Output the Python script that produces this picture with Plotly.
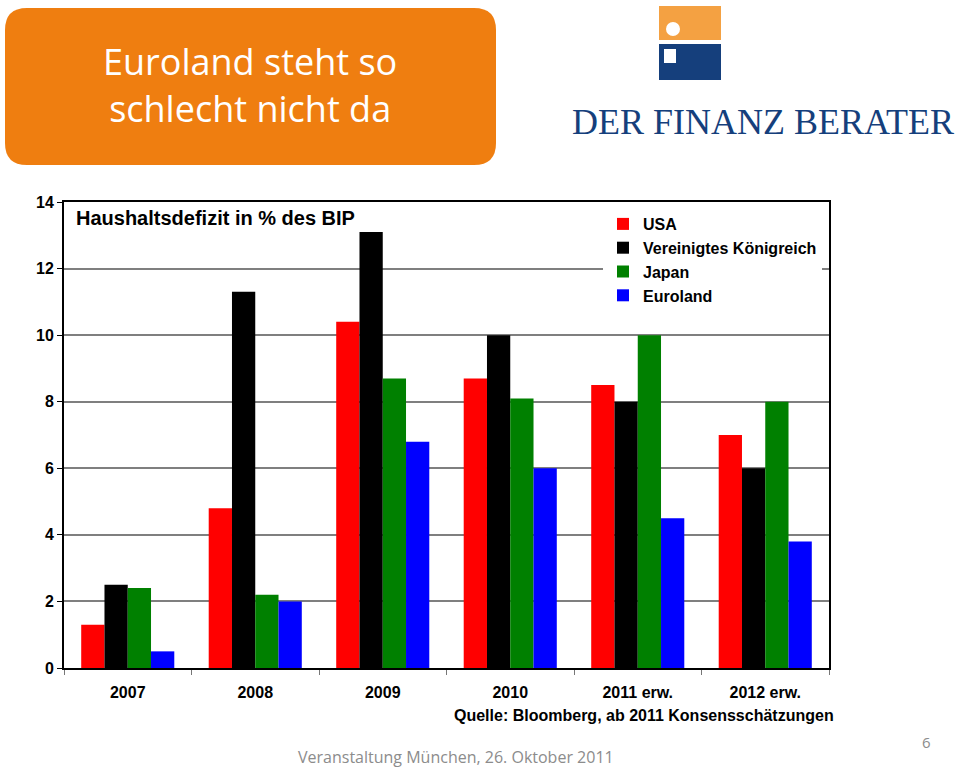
import plotly.graph_objects as go

categories = ["2007", "2008", "2009", "2010", "2011 erw.", "2012 erw."]
usa = [1.3, 4.8, 10.4, 8.7, 8.5, 7.0]
uk = [2.5, 11.3, 13.1, 10.0, 8.0, 6.0]
japan = [2.4, 2.2, 8.7, 8.1, 10.0, 8.0]
euroland = [0.5, 2.0, 6.8, 6.0, 4.5, 3.8]
series_names = ["USA", "Vereinigtes Königreich", "Japan", "Euroland"]
series_colors = ["#FF0000", "#000000", "#008000", "#0000FF"]
y_ticks = [0, 2, 4, 6, 8, 10, 12, 14]

W, H = 960, 769
L, R, T, B = 64, 829, 202, 668


def px(x):
    return (x - L) / (R - L)


def py(y):
    return (B - y) / (B - T)


fig = go.Figure()
for name, vals, col in zip(series_names, [usa, uk, japan, euroland], series_colors):
    fig.add_trace(go.Bar(x=categories, y=vals, name=name, marker=dict(color=col, line=dict(width=0))))

bold = "Liberation Sans"

fig.update_layout(
    width=W, height=H,
    margin=dict(l=L, r=W - R, t=T, b=H - B),
    paper_bgcolor="white", plot_bgcolor="white",
    barmode="group", bargap=0.27, bargroupgap=0,
    showlegend=True,
    legend=dict(x=px(603), y=py(207), xanchor="left", yanchor="top",
                bgcolor="white", borderwidth=0, tracegroupgap=0,
                font=dict(family=bold, size=16, color="black", weight="bold"),
                itemwidth=30),
    font=dict(family=bold),
)
fig.update_xaxes(
    type="category", showline=True, linecolor="black", linewidth=2, mirror=True,
    ticks="outside", tickson="boundaries", ticklen=5, tickcolor="#777",
    tickfont=dict(family=bold, size=16, color="black", weight="bold"),
    showgrid=False, ticklabelstandoff=9,
)
fig.update_yaxes(
    range=[0, 14], tickvals=y_ticks, showline=True, linecolor="black", linewidth=2, mirror=True,
    ticks="outside", ticklen=5, tickcolor="black",
    tickfont=dict(family=bold, size=16, color="black", weight="bold"),
    showgrid=True, gridcolor="#7f7f7f", gridwidth=1.5, zeroline=False,
)

shapes = []
# orange title box (rounded)
x0, x1, y0, y1, r = 5, 496, 8, 165, 22
rx = r / (R - L)
ry = r / (B - T)
X0, X1, Y0, Y1 = px(x0), px(x1), py(y1), py(y0)
path = (f"M {X0+rx},{Y0} L {X1-rx},{Y0} Q {X1},{Y0} {X1},{Y0+ry} L {X1},{Y1-ry} "
        f"Q {X1},{Y1} {X1-rx},{Y1} L {X0+rx},{Y1} Q {X0},{Y1} {X0},{Y1-ry} "
        f"L {X0},{Y0+ry} Q {X0},{Y0} {X0+rx},{Y0} Z")
shapes.append(dict(type="path", xref="paper", yref="paper", path=path,
                   fillcolor="#EF7E10", line=dict(width=0), layer="above"))
# logo
shapes.append(dict(type="rect", xref="paper", yref="paper", x0=px(659), x1=px(721), y0=py(40), y1=py(6),
                   fillcolor="#F4A142", line=dict(width=0)))
shapes.append(dict(type="rect", xref="paper", yref="paper", x0=px(659), x1=px(721), y0=py(80), y1=py(44),
                   fillcolor="#153F7C", line=dict(width=0)))
shapes.append(dict(type="circle", xref="paper", yref="paper", x0=px(666), x1=px(680), y0=py(36), y1=py(22),
                   fillcolor="white", line=dict(width=0)))
shapes.append(dict(type="rect", xref="paper", yref="paper", x0=px(664), x1=px(676), y0=py(63), y1=py(49),
                   fillcolor="white", line=dict(width=0)))
fig.update_layout(shapes=shapes)

annotations = [
    dict(text="Euroland steht so<br>schlecht nicht da", x=px(250), y=py(85), xref="paper", yref="paper",
         showarrow=False, xanchor="center", yanchor="middle",
         font=dict(family="Open Sans", size=36, color="white")),
    dict(text="DER FINANZ BERATER", x=px(763), y=py(122), xref="paper", yref="paper",
         showarrow=False, xanchor="center", yanchor="middle",
         font=dict(family="Liberation Serif", size=36, color="#153F7C")),
    dict(text="Haushaltsdefizit in % des BIP", x=px(74), y=py(218), xref="paper", yref="paper",
         showarrow=False, xanchor="left", yanchor="middle",
         font=dict(family=bold, size=20, color="black", weight="bold")),
    dict(text="Quelle: Bloomberg, ab 2011 Konsensschätzungen", x=px(836), y=py(715), xref="paper", yref="paper",
         showarrow=False, xanchor="right", yanchor="middle",
         font=dict(family=bold, size=16, color="black", weight="bold")),
    dict(text="Veranstaltung München, 26. Oktober 2011", x=px(456), y=py(757), xref="paper", yref="paper",
         showarrow=False, xanchor="center", yanchor="middle",
         font=dict(family="Open Sans", size=16, color="#8c8c8c")),
    dict(text="6", x=px(926), y=py(742), xref="paper", yref="paper",
         showarrow=False, xanchor="center", yanchor="middle",
         font=dict(family="Open Sans", size=15, color="#8c8c8c")),
]
fig.update_layout(annotations=annotations)

fig.write_html("out.html", config={"displayModeBar": False},
               post_script="document.body.style.margin='0px';")
